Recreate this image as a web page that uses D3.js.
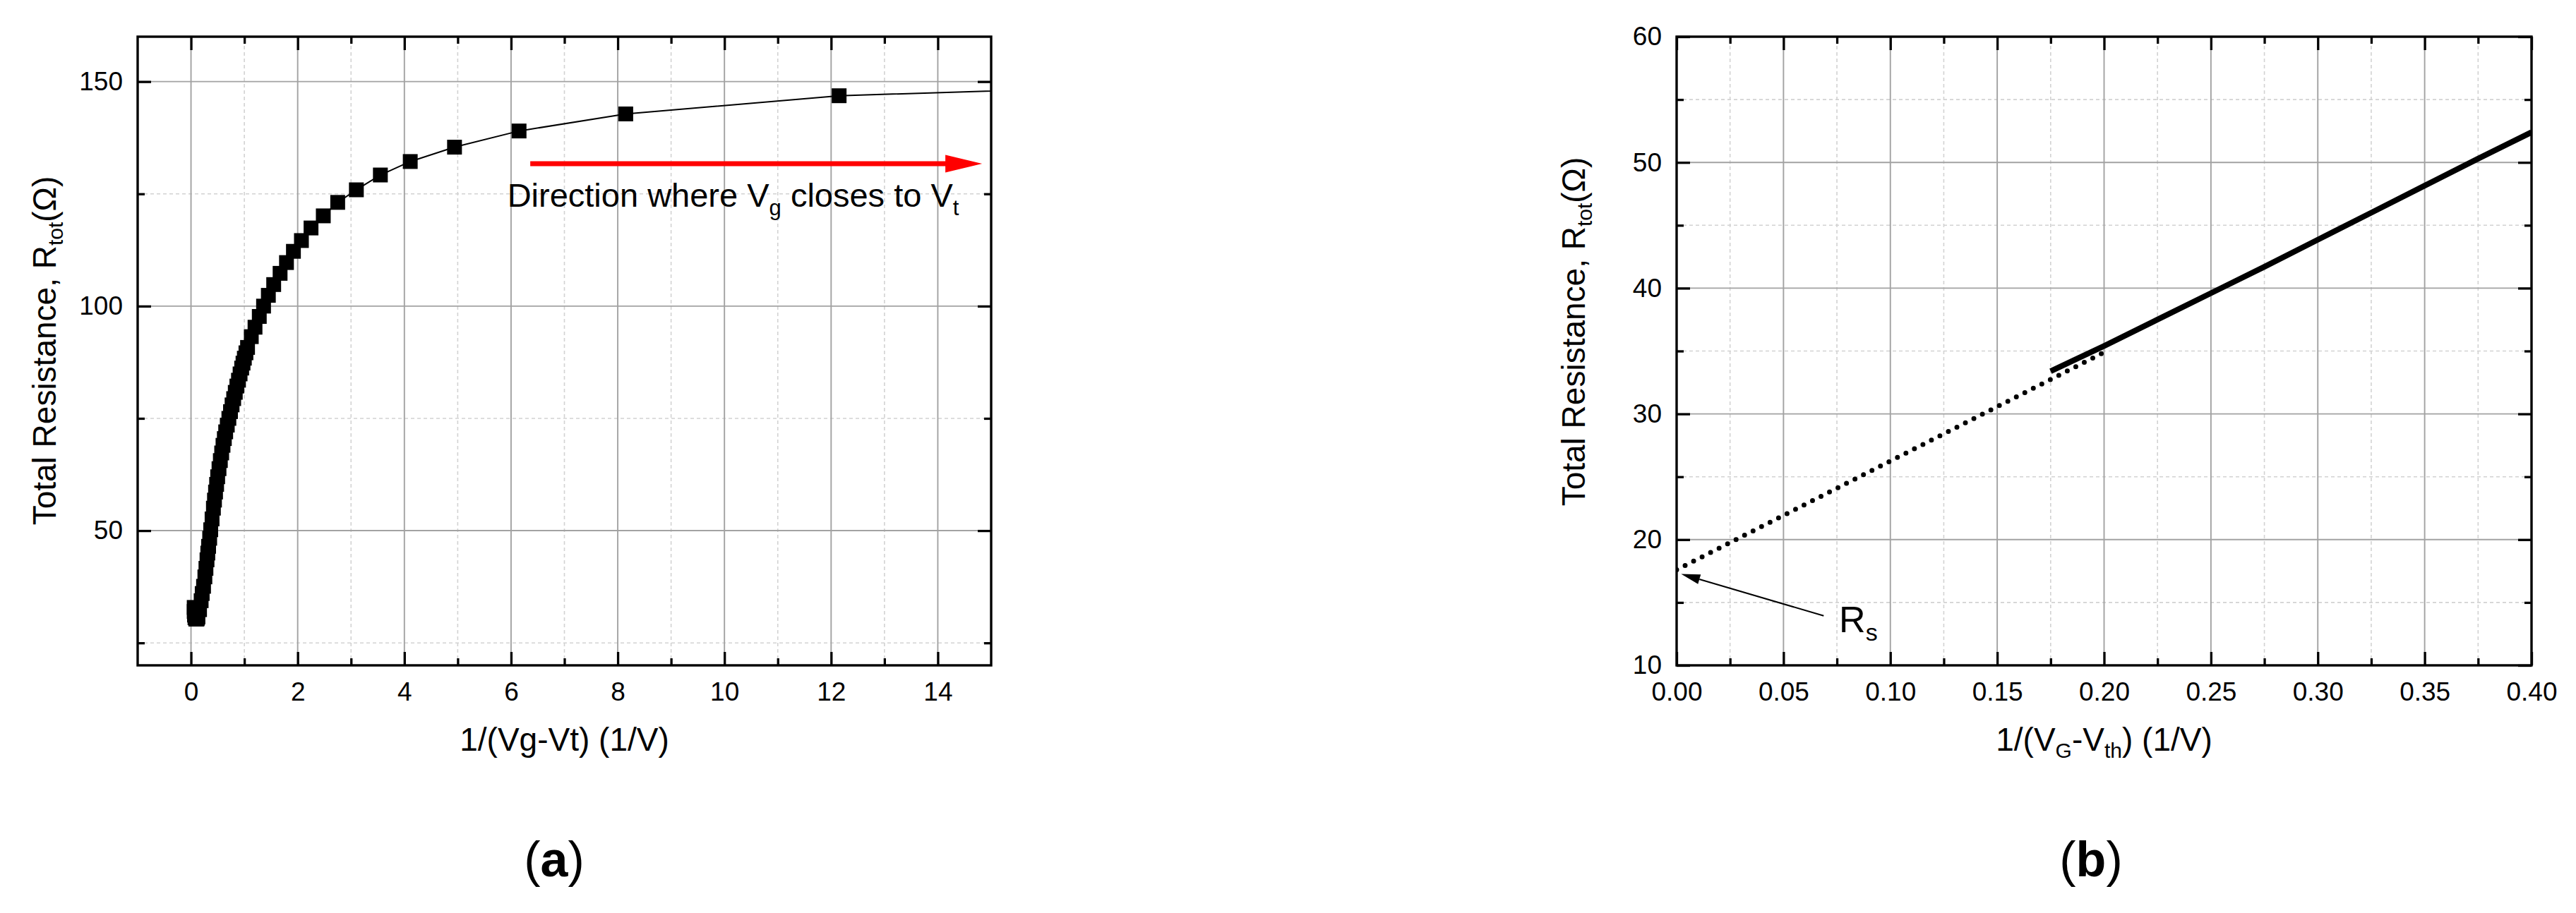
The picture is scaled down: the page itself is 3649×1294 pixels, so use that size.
<!DOCTYPE html>
<html><head><meta charset="utf-8">
<script src="https://cdn.jsdelivr.net/npm/d3@7"></script>
<style>
html,body{margin:0;padding:0;background:#fff;}
svg{display:block;}
text{font-family:"Liberation Sans",Arial,sans-serif;fill:#000;white-space:pre;}
</style></head><body>
<svg id="chart" width="3649" height="1294"></svg>
<script>
// ---------- Panel (a) data: 1/(Vg-Vt) vs total resistance ----------
const aX = [0.06,0.06,0.065,0.075,0.09,0.11,0.12,0.13,0.16,0.19,0.21,0.235,0.26,0.28,0.30,0.315,0.33,0.35,0.37,0.395,0.42,0.44,0.46,0.48,0.50,0.525,0.55,0.575,0.60,0.625,0.65,0.68,0.71,0.74,0.77,0.80,0.83,0.86,0.89,0.92,0.95,0.975,1.00,1.03,1.06,1.13,1.20,1.28,1.36,1.45,1.55,1.67,1.79,1.92,2.07,2.25,2.48,2.75,3.10,3.55,4.11,4.94,6.15,8.15,12.15,23.6];
const aY = [32.9,32.0,31.2,30.6,30.3,30.3,30.5,30.8,32.4,34.4,36.0,37.6,39.7,41.6,43.5,45.0,46.5,48.3,50.2,52.6,55.0,56.8,58.6,60.3,62.0,63.8,65.6,67.3,69.0,70.5,72.0,73.5,75.0,76.5,78.0,79.4,80.8,82.2,83.5,84.9,86.2,87.3,88.4,89.6,90.8,93.2,95.3,97.7,100.0,102.4,104.8,107.3,109.7,112.2,114.6,117.4,120.1,123.1,125.9,129.2,132.2,135.4,139.0,142.8,146.85,151.1];
const aXMajor = [0,2,4,6,8,10,12,14];
const aXMinor = [1,3,5,7,9,11,13];
const aYMajor = [50,100,150];
const aYMinor = [25,75,125];
const aArrowX = [6.36, 14.83];
const aArrowY = [131.7, 131.7];

// ---------- Panel (b) data: 1/(VG-Vth) vs total resistance ----------
const bX = [0.175,0.20,0.225,0.25,0.275,0.30,0.325,0.35,0.375,0.40];
const bY = [33.4,35.4,37.5,39.6,41.7,43.85,46.0,48.15,50.3,52.4];
const fitX = [0, 0.2];
const fitY = [17.6, 34.9];
const bXMajor = [0,0.05,0.10,0.15,0.20,0.25,0.30,0.35,0.40];
const bXMinor = [0.025,0.075,0.125,0.175,0.225,0.275,0.325,0.375];
const bYMajor = [10,20,30,40,50,60];
const bYMinor = [15,25,35,45,55];
const rsArrowX = [0.0688, 0.0021];
const rsArrowY = [13.94, 17.27];

const FONT = '"Liberation Sans", Arial, sans-serif';
const svg = d3.select('#chart');

function drawPanel(p) {
  const x = p.x, y = p.y;
  const [xl, xr] = x.range();
  const [yb, yt] = y.range();
  const g = svg.append('g');
  // grids
  g.append('g').selectAll('line').data(p.xMinor).join('line')
    .attr('x1', d => x(d)).attr('x2', d => x(d)).attr('y1', yb).attr('y2', yt)
    .attr('stroke', '#d2d2d2').attr('stroke-width', 1.6).attr('stroke-dasharray', '5,4');
  g.append('g').selectAll('line').data(p.yMinor).join('line')
    .attr('y1', d => y(d)).attr('y2', d => y(d)).attr('x1', xl).attr('x2', xr)
    .attr('stroke', '#d2d2d2').attr('stroke-width', 1.6).attr('stroke-dasharray', '5,4');
  g.append('g').selectAll('line').data(p.xMajor).join('line')
    .attr('x1', d => x(d)).attr('x2', d => x(d)).attr('y1', yb).attr('y2', yt)
    .attr('stroke', '#a2a2a2').attr('stroke-width', 1.9);
  g.append('g').selectAll('line').data(p.yMajor).join('line')
    .attr('y1', d => y(d)).attr('y2', d => y(d)).attr('x1', xl).attr('x2', xr)
    .attr('stroke', '#a2a2a2').attr('stroke-width', 1.9);

  const clipId = 'clip' + p.id;
  svg.append('clipPath').attr('id', clipId).append('rect')
    .attr('x', xl).attr('y', yt).attr('width', xr - xl).attr('height', yb - yt);
  const data = g.append('g').attr('clip-path', `url(#${clipId})`);
  p.drawData(data, x, y);

  // frame
  g.append('rect').attr('x', xl).attr('y', yt).attr('width', xr - xl).attr('height', yb - yt)
    .attr('fill', 'none').attr('stroke', '#000').attr('stroke-width', 3.4);

  const style = s => {
    s.select('.domain').remove();
    s.attr('font-size', 37).attr('font-family', FONT);
    s.selectAll('line').attr('stroke', '#000').attr('stroke-width', 3.3);
    s.selectAll('text').attr('fill', '#000');
  };
  // major axes
  g.append('g').attr('transform', `translate(0,${yb})`)
    .call(d3.axisBottom(x).tickValues(p.xMajor).tickSizeInner(-19).tickSizeOuter(0).tickPadding(24).tickFormat(p.xFmt)).call(style);
  g.append('g').attr('transform', `translate(0,${yt})`)
    .call(d3.axisTop(x).tickValues(p.xMajor).tickSizeInner(-19).tickSizeOuter(0).tickFormat('')).call(style);
  g.append('g').attr('transform', `translate(${xl},0)`)
    .call(d3.axisLeft(y).tickValues(p.yMajor).tickSizeInner(-19).tickSizeOuter(0).tickPadding(21).tickFormat(p.yFmt)).call(style);
  g.append('g').attr('transform', `translate(${xr},0)`)
    .call(d3.axisRight(y).tickValues(p.yMajor).tickSizeInner(-19).tickSizeOuter(0).tickFormat('')).call(style);
  // minor axes
  g.append('g').attr('transform', `translate(0,${yb})`)
    .call(d3.axisBottom(x).tickValues(p.xMinor).tickSizeInner(-10).tickSizeOuter(0).tickFormat('')).call(style);
  g.append('g').attr('transform', `translate(0,${yt})`)
    .call(d3.axisTop(x).tickValues(p.xMinor).tickSizeInner(-10).tickSizeOuter(0).tickFormat('')).call(style);
  g.append('g').attr('transform', `translate(${xl},0)`)
    .call(d3.axisLeft(y).tickValues(p.yMinor).tickSizeInner(-10).tickSizeOuter(0).tickFormat('')).call(style);
  g.append('g').attr('transform', `translate(${xr},0)`)
    .call(d3.axisRight(y).tickValues(p.yMinor).tickSizeInner(-10).tickSizeOuter(0).tickFormat('')).call(style);

  // x title
  const xt = svg.append('text').attr('x', (xl + xr) / 2).attr('y', 1064)
    .attr('text-anchor', 'middle').attr('font-size', 46);
  p.xTitle(xt);
  // y title
  const yt2 = svg.append('text').attr('transform', `translate(${p.yTitleX},${p.yTitleY}) rotate(-90)`)
    .attr('text-anchor', 'middle').attr('font-size', 46);
  yt2.append('tspan').text('Total Resistance, R');
  yt2.append('tspan').attr('font-size', 30).attr('dy', 10).text('tot');
  yt2.append('tspan').attr('font-size', 46).attr('dy', -10).text('(Ω)');

  // caption
  const cap = svg.append('text').attr('x', p.capX).attr('y', 1242).attr('text-anchor', 'middle')
    .attr('font-size', 70).attr('font-family', '"Liberation Serif", "Times New Roman", serif');
  cap.append('tspan').text('(');
  cap.append('tspan').attr('font-weight', 'bold').text(p.cap);
  cap.append('tspan').text(')');
  return g;
}

// ---------------- Panel (a) ----------------
const xa = d3.scaleLinear().domain([-1, 15]).range([195, 1404]);
const ya = d3.scaleLinear().domain([20, 160]).range([943, 52]);
drawPanel({
  id: 'a', x: xa, y: ya,
  xMajor: aXMajor, xMinor: aXMinor, yMajor: aYMajor, yMinor: aYMinor,
  xFmt: d3.format('d'), yFmt: d3.format('d'),
  yTitleX: 79, yTitleY: 497, capX: 785, cap: 'a',
  xTitle: t => t.text('1/(Vg-Vt) (1/V)'),
  drawData: (g, x, y) => {
    const pts = aX.map((v, i) => [v, aY[i]]);
    g.append('path').datum(pts)
      .attr('d', d3.line().x(d => x(d[0])).y(d => y(d[1])))
      .attr('fill', 'none').attr('stroke', '#000').attr('stroke-width', 2);
    g.selectAll('path.m').data(pts).join('path').attr('class', 'm')
      .attr('transform', d => `translate(${x(d[0])},${y(d[1])})`)
      .attr('d', d3.symbol(d3.symbolSquare, 21 * 21)())
      .attr('fill', '#000');
  }
});
// red arrow
{
  const x0 = xa(aArrowX[0]), x1 = xa(aArrowX[1]), yy = ya(aArrowY[0]);
  const head = 52, hw = 12.5;
  svg.append('line').attr('x1', x0).attr('x2', x1 - head + 2).attr('y1', yy).attr('y2', yy)
    .attr('stroke', '#ff0000').attr('stroke-width', 7);
  svg.append('path').attr('d', d3.line()([[x1, yy], [x1 - head, yy - hw], [x1 - head, yy + hw]]) + 'Z')
    .attr('fill', '#ff0000');
  const t = svg.append('text').attr('x', xa(5.93)).attr('y', ya(122.1)).attr('font-size', 47);
  t.append('tspan').text('Direction where V');
  t.append('tspan').attr('font-size', 31).attr('dy', 12).text('g');
  t.append('tspan').attr('font-size', 47).attr('dy', -12).text(' closes to V');
  t.append('tspan').attr('font-size', 31).attr('dy', 12).text('t');
}

// ---------------- Panel (b) ----------------
const xb = d3.scaleLinear().domain([0, 0.4]).range([2375, 3586]);
const yb = d3.scaleLinear().domain([10, 60]).range([943, 52]);
drawPanel({
  id: 'b', x: xb, y: yb,
  xMajor: bXMajor, xMinor: bXMinor, yMajor: bYMajor, yMinor: bYMinor,
  xFmt: d3.format('.2f'), yFmt: d3.format('d'),
  yTitleX: 2245, yTitleY: 470, capX: 2962, cap: 'b',
  xTitle: t => {
    t.append('tspan').text('1/(V');
    t.append('tspan').attr('font-size', 30).attr('dy', 10).text('G');
    t.append('tspan').attr('font-size', 46).attr('dy', -10).text('-V');
    t.append('tspan').attr('font-size', 30).attr('dy', 10).text('th');
    t.append('tspan').attr('font-size', 46).attr('dy', -10).text(') (1/V)');
  },
  drawData: (g, x, y) => {
    const fit = fitX.map((v, i) => [v, fitY[i]]);
    g.append('path').datum(fit)
      .attr('d', d3.line().x(d => x(d[0])).y(d => y(d[1])))
      .attr('fill', 'none').attr('stroke', '#000').attr('stroke-width', 7)
      .attr('stroke-linecap', 'round').attr('stroke-dasharray', '0,13.5');
    const pts = bX.map((v, i) => [v, bY[i]]);
    g.append('path').datum(pts)
      .attr('d', d3.line().x(d => x(d[0])).y(d => y(d[1])))
      .attr('fill', 'none').attr('stroke', '#000').attr('stroke-width', 8);
  }
});
// Rs arrow
{
  const tx = xb(rsArrowX[0]), ty = yb(rsArrowY[0]);
  const hx = xb(rsArrowX[1]), hy = yb(rsArrowY[1]);
  const ang = Math.atan2(hy - ty, hx - tx);
  const L = 27, W = 7;
  const bx = hx - L * Math.cos(ang), by = hy - L * Math.sin(ang);
  svg.append('line').attr('x1', tx).attr('y1', ty).attr('x2', bx).attr('y2', by)
    .attr('stroke', '#000').attr('stroke-width', 2);
  svg.append('path').attr('d', d3.line()([
    [hx, hy],
    [bx + W * Math.sin(ang), by - W * Math.cos(ang)],
    [bx - W * Math.sin(ang), by + W * Math.cos(ang)]
  ]) + 'Z').attr('fill', '#000');
  const t = svg.append('text').attr('x', xb(0.076)).attr('y', yb(12.65)).attr('font-size', 52);
  t.append('tspan').text('R');
  t.append('tspan').attr('font-size', 34).attr('dy', 12).text('s');
}
</script>
</body></html>
